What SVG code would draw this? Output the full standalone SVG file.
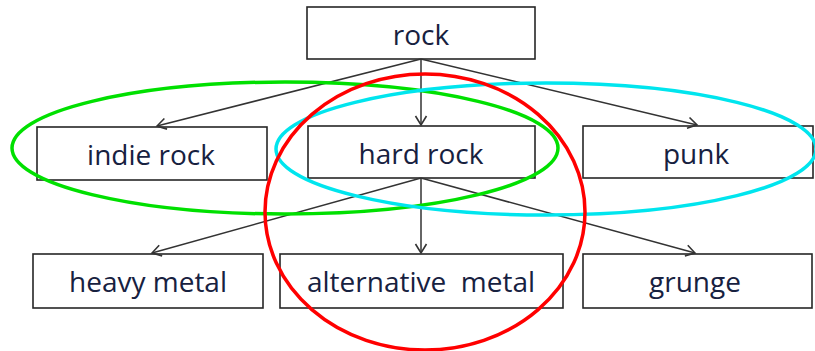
<svg xmlns="http://www.w3.org/2000/svg" width="815" height="351" viewBox="0 0 815 351">
  <style>
    .box { fill: #ffffff; stroke: #262626; stroke-width: 1.6; }
    .label { font-family: "Open Sans", "Liberation Sans", sans-serif; font-size: 28px; fill: #17213f; text-anchor: middle; white-space: pre; }
    .edge { stroke: #333333; stroke-width: 1.5; fill: none; marker-end: url(#arrow); }
    .ring { fill: none; stroke-width: 3.5; }
  </style>
  <defs>
    <marker id="arrow" markerUnits="userSpaceOnUse" markerWidth="16" markerHeight="16" refX="11" refY="7" orient="auto">
      <path d="M2,1.5 L11,7 L2,12.5" fill="none" stroke="#333333" stroke-width="1.6"/>
    </marker>
  </defs>
  <rect width="815" height="351" fill="#ffffff"/>

  <g id="node-rock">
    <rect class="box" x="307" y="7" width="228" height="52"/>
    <text class="label" x="421" y="45">rock</text>
  </g>
  <g id="node-indie-rock">
    <rect class="box" x="37" y="127" width="230" height="53"/>
    <text class="label" x="151" y="165">indie rock</text>
  </g>
  <g id="node-hard-rock">
    <rect class="box" x="308" y="126" width="227" height="52"/>
    <text class="label" x="421" y="164">hard rock</text>
  </g>
  <g id="node-punk">
    <rect class="box" x="583" y="126" width="230" height="52"/>
    <text class="label" x="696" y="164">punk</text>
  </g>
  <g id="node-heavy-metal">
    <rect class="box" x="33" y="254" width="230" height="54"/>
    <text class="label" x="148" y="292">heavy metal</text>
  </g>
  <g id="node-alternative-metal">
    <rect class="box" x="280" y="254" width="283" height="54"/>
    <text class="label" x="421" y="292">alternative  metal</text>
  </g>
  <g id="node-grunge">
    <rect class="box" x="583" y="254" width="229" height="54"/>
    <text class="label" x="695" y="292">grunge</text>
  </g>

  <g id="connectors">
    <line class="edge" x1="421" y1="59" x2="157" y2="126"/>
    <line class="edge" x1="421" y1="59" x2="421" y2="125"/>
    <line class="edge" x1="421" y1="59" x2="697" y2="125"/>
    <line class="edge" x1="421" y1="178" x2="152" y2="253"/>
    <line class="edge" x1="421" y1="178" x2="421" y2="253"/>
    <line class="edge" x1="421" y1="178" x2="695" y2="253"/>
  </g>

  <g id="groupings">
    <ellipse class="ring" cx="285" cy="148" rx="273" ry="66" stroke="#00e000"/>
    <ellipse class="ring" cx="546" cy="149" rx="270" ry="66" stroke="#00e5ee"/>
    <ellipse class="ring" cx="425" cy="212" rx="160" ry="138" stroke="#ff0000"/>
  </g>
</svg>
